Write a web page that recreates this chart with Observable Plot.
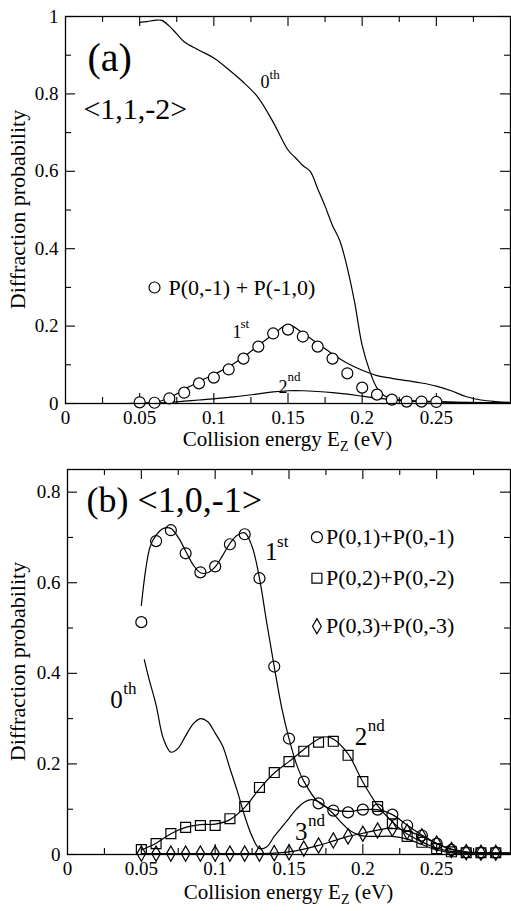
<!DOCTYPE html>
<html><head><meta charset="utf-8">
<script src="https://cdn.jsdelivr.net/npm/d3@7"></script>
<script src="https://cdn.jsdelivr.net/npm/@observablehq/plot@0.6"></script>
<style>
body{margin:0;background:#fff;}
#chart{width:511px;}
#chart svg{display:block;font-family:'Liberation Serif','Times New Roman',Times,'DejaVu Serif',serif;}
#chart svg text{font-family:'Liberation Serif','Times New Roman',Times,'DejaVu Serif',serif;}
</style>
</head><body><div id="chart"></div>
<script>
// ---------- tick values ----------
const xTickLabels = [0, 0.05, 0.1, 0.15, 0.2, 0.25];
const xMajorTicks = [0.05, 0.1, 0.15, 0.2, 0.25];
const xMinorTicks = [0.025, 0.075, 0.125, 0.175, 0.225, 0.275];
const yTicksA = [0, 0.2, 0.4, 0.6, 0.8, 1];
const yMinorA = [0.1, 0.3, 0.5, 0.7, 0.9];
const yTicksB = [0, 0.2, 0.4, 0.6, 0.8];
const yMinorB = [0.1, 0.3, 0.5, 0.7];

// ---------- panel (a) data ----------
const a0_x = [0.05,0.055,0.06,0.065,0.07,0.075,0.08,0.09,0.1,0.11,0.12,0.13,0.14,0.15,0.155,0.16,0.165,0.17,0.175,0.18,0.185,0.19,0.195,0.2,0.205,0.21,0.215,0.22,0.23,0.25,0.27,0.3];
const a0_y = [0.985,0.987,0.99,0.99,0.975,0.955,0.935,0.913,0.893,0.863,0.83,0.79,0.727,0.655,0.635,0.615,0.6,0.555,0.51,0.46,0.42,0.35,0.26,0.15,0.085,0.04,0.02,0.012,0.008,0.005,0.003,0.002];
const a1_x = [0.04,0.05,0.06,0.07,0.08,0.09,0.1,0.11,0.12,0.13,0.14,0.15,0.16,0.17,0.18,0.19,0.2,0.21,0.22,0.23,0.24,0.25,0.26,0.27,0.28,0.29,0.3];
const a1_y = [0,0.001,0.003,0.015,0.036,0.057,0.075,0.095,0.12,0.15,0.178,0.204,0.182,0.155,0.128,0.104,0.086,0.072,0.065,0.059,0.053,0.045,0.033,0.018,0.009,0.005,0.003];
const a2_x = [0.05,0.06,0.07,0.08,0.09,0.1,0.11,0.12,0.13,0.14,0.15,0.16,0.17,0.18,0.19,0.2,0.21,0.22,0.23,0.24,0.25,0.26,0.28,0.3];
const a2_y = [0,0.001,0.003,0.006,0.009,0.012,0.016,0.02,0.025,0.03,0.033,0.033,0.031,0.028,0.024,0.019,0.014,0.01,0.007,0.005,0.004,0.003,0.002,0.001];
const aCirc_x = [0.05,0.06,0.07,0.08,0.09,0.1,0.11,0.12,0.13,0.14,0.15,0.16,0.17,0.18,0.19,0.2,0.21,0.22,0.23,0.24,0.25];
const aCirc_y = [0.003,0.002,0.013,0.028,0.052,0.067,0.088,0.116,0.147,0.181,0.191,0.173,0.147,0.116,0.078,0.041,0.023,0.01,0.005,0.005,0.004];

// ---------- panel (b) data ----------
const b0_x = [0.052,0.055,0.06,0.065,0.07,0.075,0.08,0.085,0.09,0.095,0.1,0.105,0.11,0.115,0.12,0.125,0.13,0.135,0.14,0.145,0.15,0.155,0.16,0.165,0.17,0.175,0.18,0.185,0.19,0.195,0.2,0.21,0.22,0.23,0.24,0.25,0.26,0.27,0.28,0.29,0.3];
const b0_y = [0.43,0.39,0.33,0.255,0.226,0.235,0.262,0.288,0.3,0.293,0.268,0.24,0.19,0.14,0.085,0.04,0.013,0.017,0.04,0.06,0.08,0.1,0.115,0.121,0.117,0.105,0.09,0.072,0.056,0.046,0.041,0.04,0.04,0.034,0.022,0.01,0.004,0.002,0.001,0.001,0.001];
const b1_x = [0.05,0.053,0.056,0.06,0.065,0.07,0.075,0.08,0.085,0.09,0.095,0.1,0.105,0.11,0.115,0.12,0.125,0.13,0.135,0.14,0.145,0.15,0.155,0.16,0.17,0.18,0.19,0.2,0.21,0.22,0.23,0.24,0.25,0.26,0.27,0.28,0.29,0.3];
const b1_y = [0.55,0.63,0.68,0.705,0.72,0.72,0.70,0.67,0.64,0.622,0.622,0.635,0.66,0.687,0.705,0.71,0.68,0.61,0.51,0.415,0.325,0.256,0.2,0.162,0.115,0.099,0.095,0.099,0.099,0.088,0.065,0.043,0.025,0.012,0.006,0.004,0.003,0.003];
const b2_x = [0.05,0.06,0.07,0.08,0.09,0.1,0.11,0.12,0.13,0.14,0.15,0.16,0.17,0.175,0.18,0.19,0.2,0.21,0.22,0.23,0.24,0.25,0.26,0.27,0.28,0.29,0.3];
const b2_y = [0.01,0.025,0.046,0.06,0.066,0.067,0.077,0.104,0.145,0.18,0.205,0.232,0.255,0.26,0.255,0.222,0.16,0.108,0.072,0.045,0.028,0.014,0.007,0.004,0.003,0.003,0.003];
const b3_x = [0.05,0.1,0.13,0.14,0.15,0.16,0.17,0.18,0.19,0.2,0.21,0.22,0.23,0.24,0.25,0.26,0.27,0.28,0.29,0.3];
const b3_y = [0.002,0.002,0.002,0.003,0.006,0.012,0.02,0.03,0.04,0.047,0.054,0.058,0.052,0.04,0.024,0.011,0.005,0.003,0.003,0.003];
const bPts_x = [0.05,0.06,0.07,0.08,0.09,0.1,0.11,0.12,0.13,0.14,0.15,0.16,0.17,0.18,0.19,0.2,0.21,0.22,0.23,0.24,0.25,0.26,0.27,0.28,0.29];
const bCirc_y = [0.513,0.692,0.716,0.665,0.623,0.636,0.685,0.707,0.61,0.415,0.256,0.161,0.113,0.097,0.093,0.099,0.099,0.088,0.064,0.042,0.024,0.01,0.005,0.004,0.004];
const bSq_y = [0.011,0.024,0.046,0.06,0.064,0.064,0.079,0.106,0.148,0.181,0.205,0.228,0.248,0.25,0.219,0.161,0.106,0.068,0.04,0.027,0.013,0.006,0.004,0.004,0.004];
const bDia_y = [0.002,0.002,0.002,0.002,0.002,0.002,0.002,0.002,0.002,0.003,0.005,0.013,0.02,0.031,0.04,0.046,0.053,0.057,0.05,0.04,0.024,0.01,0.005,0.004,0.004];

const zip = (xs, ys) => xs.map((x, i) => ({x, y: ys[i]}));
const FONT = "'Liberation Serif','Times New Roman',Times,'DejaVu Serif',serif";
const W = 511;

function inwardTicks(xDom, yDom, h, m, yMaj, yMin) {
  const ux = (xDom[1] - xDom[0]) / (W - m.left - m.right);
  const uy = (yDom[1] - yDom[0]) / (h - m.top - m.bottom);
  const L = 10, S = 6, sw = 1.1;
  const o = {stroke: "black", strokeWidth: sw};
  return [
    Plot.ruleX(xMajorTicks, {x: d => d, y1: yDom[0], y2: yDom[0] + L * uy, ...o}),
    Plot.ruleX(xMinorTicks, {x: d => d, y1: yDom[0], y2: yDom[0] + S * uy, ...o}),
    Plot.ruleX(xMajorTicks, {x: d => d, y1: yDom[1], y2: yDom[1] - L * uy, ...o}),
    Plot.ruleX(xMinorTicks, {x: d => d, y1: yDom[1], y2: yDom[1] - S * uy, ...o}),
    Plot.ruleY(yMaj, {y: d => d, x1: xDom[0], x2: xDom[0] + L * ux, ...o}),
    Plot.ruleY(yMin, {y: d => d, x1: xDom[0], x2: xDom[0] + S * ux, ...o}),
    Plot.ruleY(yMaj, {y: d => d, x1: xDom[1], x2: xDom[1] - L * ux, ...o}),
    Plot.ruleY(yMin, {y: d => d, x1: xDom[1], x2: xDom[1] - S * ux, ...o})
  ];
}

function ordLabel(x, y, base, sup, size, supSize, dx, dy) {
  return [
    Plot.text([base], {x: () => x, y: () => y, text: d => d, textAnchor: "start", lineAnchor: "bottom", fontSize: size, fill: "black"}),
    Plot.text([sup], {x: () => x, y: () => y, text: d => d, textAnchor: "start", lineAnchor: "bottom", fontSize: supSize, dx, dy, fill: "black"})
  ];
}

function addTitles(svg, h, m, xBaselineOffset) {
  const s = d3.select(svg);
  const cx = (m.left + W - m.right) / 2;
  const t = s.append("text").attr("x", cx).attr("y", h - m.bottom + xBaselineOffset)
    .attr("text-anchor", "middle").attr("font-family", FONT).attr("font-size", 21).attr("fill", "black");
  t.append("tspan").text("Collision energy E");
  t.append("tspan").attr("font-size", 14).attr("dy", 5).text("Z");
  t.append("tspan").attr("dy", -5).text(" (eV)");
  const cy = (m.top + h - m.bottom) / 2;
  s.append("text").attr("transform", `translate(20,${cy}) rotate(-90)`)
    .attr("text-anchor", "middle").attr("dominant-baseline", "middle")
    .attr("font-family", FONT).attr("font-size", 22).attr("fill", "black")
    .text("Diffraction probability");
}

const lineOpts = {x: "x", y: "y", stroke: "black", strokeWidth: 1.2, curve: "catmull-rom"};
const TICKFONT = 19;

// ---------- panel (a) ----------
const hA = 455, mA = {top: 16, right: 1, bottom: 52, left: 65};
const xDom = [0, 0.3], yDomA = [0, 1];
const plotA = Plot.plot({
  width: W, height: hA,
  marginTop: mA.top, marginRight: mA.right, marginBottom: mA.bottom, marginLeft: mA.left,
  style: {fontFamily: FONT, background: "white", color: "black"},
  x: {domain: xDom, label: null},
  y: {domain: yDomA, label: null},
  marks: [
    Plot.axisX(xTickLabels, {tickSize: 0, tickPadding: 7, tickFormat: d => String(d), fontSize: TICKFONT, label: null}),
    Plot.axisY(yTicksA, {tickSize: 0, tickPadding: 7, tickFormat: d => String(d), fontSize: TICKFONT, label: null}),
    ...inwardTicks(xDom, yDomA, hA, mA, yTicksA, yMinorA),
    Plot.line(zip(a0_x, a0_y), lineOpts),
    Plot.line(zip(a1_x, a1_y), {...lineOpts, curve: "monotone-x"}),
    Plot.line(zip(a2_x, a2_y), lineOpts),
    Plot.dot(zip(aCirc_x, aCirc_y), {x: "x", y: "y", r: 5.5, stroke: "black", fill: "white", strokeWidth: 1.2}),
    Plot.text(["(a)"], {x: () => 0.0148, y: () => 0.86, text: d => d, textAnchor: "start", lineAnchor: "bottom", fontSize: 40}),
    Plot.text(["<1,1,-2>"], {x: () => 0.0121, y: () => 0.736, text: d => d, textAnchor: "start", lineAnchor: "bottom", fontSize: 30}),
    ...ordLabel(0.1315, 0.8165, "0", "th", 18, 13, 9, -9),
    ...ordLabel(0.1126, 0.168, "1", "st", 18, 13, 8, -10),
    ...ordLabel(0.1436, 0.0284, "2", "nd", 18, 13, 9, -12),
    Plot.dot([0], {x: () => 0.06, y: () => 0.2997, r: 5.5, stroke: "black", fill: "white", strokeWidth: 1.2}),
    Plot.text(["P(0,-1) + P(-1,0)"], {x: () => 0.0694, y: () => 0.2997, text: d => d, textAnchor: "start", lineAnchor: "middle", fontSize: 22}),
    Plot.frame({stroke: "black", strokeWidth: 1.3})
  ]
});
addTitles(plotA, hA, mA, 43);

// ---------- panel (b) ----------
const hB = 456, mB = {top: 14, right: 1, bottom: 57, left: 67};
const yDomB = [0, 0.85];
const symOpts = {x: "x", y: "y", stroke: "black", fill: "none", strokeWidth: 1.2};
const plotB = Plot.plot({
  width: W, height: hB,
  marginTop: mB.top, marginRight: mB.right, marginBottom: mB.bottom, marginLeft: mB.left,
  style: {fontFamily: FONT, background: "white", color: "black"},
  x: {domain: xDom, label: null},
  y: {domain: yDomB, label: null},
  marks: [
    Plot.axisX(xTickLabels, {tickSize: 0, tickPadding: 7, tickFormat: d => String(d), fontSize: TICKFONT, label: null}),
    Plot.axisY(yTicksB, {tickSize: 0, tickPadding: 7, tickFormat: d => String(d), fontSize: TICKFONT, label: null}),
    ...inwardTicks(xDom, yDomB, hB, mB, yTicksB, yMinorB),
    Plot.line(zip(b0_x, b0_y), lineOpts),
    Plot.line(zip(b1_x, b1_y), lineOpts),
    Plot.line(zip(b2_x, b2_y), lineOpts),
    Plot.line(zip(b3_x, b3_y), lineOpts),
    Plot.dot(zip(bPts_x, bCirc_y), {...symOpts, symbol: "circle", r: 5.5}),
    Plot.dot(zip(bPts_x, bSq_y), {...symOpts, symbol: "square", r: 5.6}),
    Plot.dot(zip(bPts_x, bDia_y), {...symOpts, symbol: "diamond", r: 4.6}),
    Plot.text(["(b) <1,0,-1>"], {x: () => 0.0128, y: () => 0.756, text: d => d, textAnchor: "start", lineAnchor: "bottom", fontSize: 36}),
    ...ordLabel(0.1338, 0.65, "1", "st", 25, 17, 12, -13),
    ...ordLabel(0.029, 0.3227, "0", "th", 25, 17, 13, -14),
    ...ordLabel(0.1946, 0.241, "2", "nd", 25, 17, 13, -14),
    ...ordLabel(0.154, 0.031, "3", "nd", 25, 17, 13, -14),
    Plot.dot([0], {x: () => 0.1689, y: () => 0.7006, stroke: "black", fill: "none", strokeWidth: 1.2, symbol: "circle", r: 5.5}),
    Plot.dot([0], {x: () => 0.1689, y: () => 0.61, stroke: "black", fill: "none", strokeWidth: 1.2, symbol: "square", r: 5.6}),
    Plot.dot([0], {x: () => 0.1689, y: () => 0.504, stroke: "black", fill: "none", strokeWidth: 1.2, symbol: "diamond", r: 4.6}),
    Plot.text(["P(0,1)+P(0,-1)"], {x: () => 0.175, y: () => 0.7006, text: d => d, textAnchor: "start", lineAnchor: "middle", fontSize: 22}),
    Plot.text(["P(0,2)+P(0,-2)"], {x: () => 0.175, y: () => 0.61, text: d => d, textAnchor: "start", lineAnchor: "middle", fontSize: 22}),
    Plot.text(["P(0,3)+P(0,-3)"], {x: () => 0.175, y: () => 0.504, text: d => d, textAnchor: "start", lineAnchor: "middle", fontSize: 22}),
    Plot.frame({stroke: "black", strokeWidth: 1.3})
  ]
});
addTitles(plotB, hB, mB, 45);

document.getElementById("chart").append(plotA, plotB);
</script></body></html>
